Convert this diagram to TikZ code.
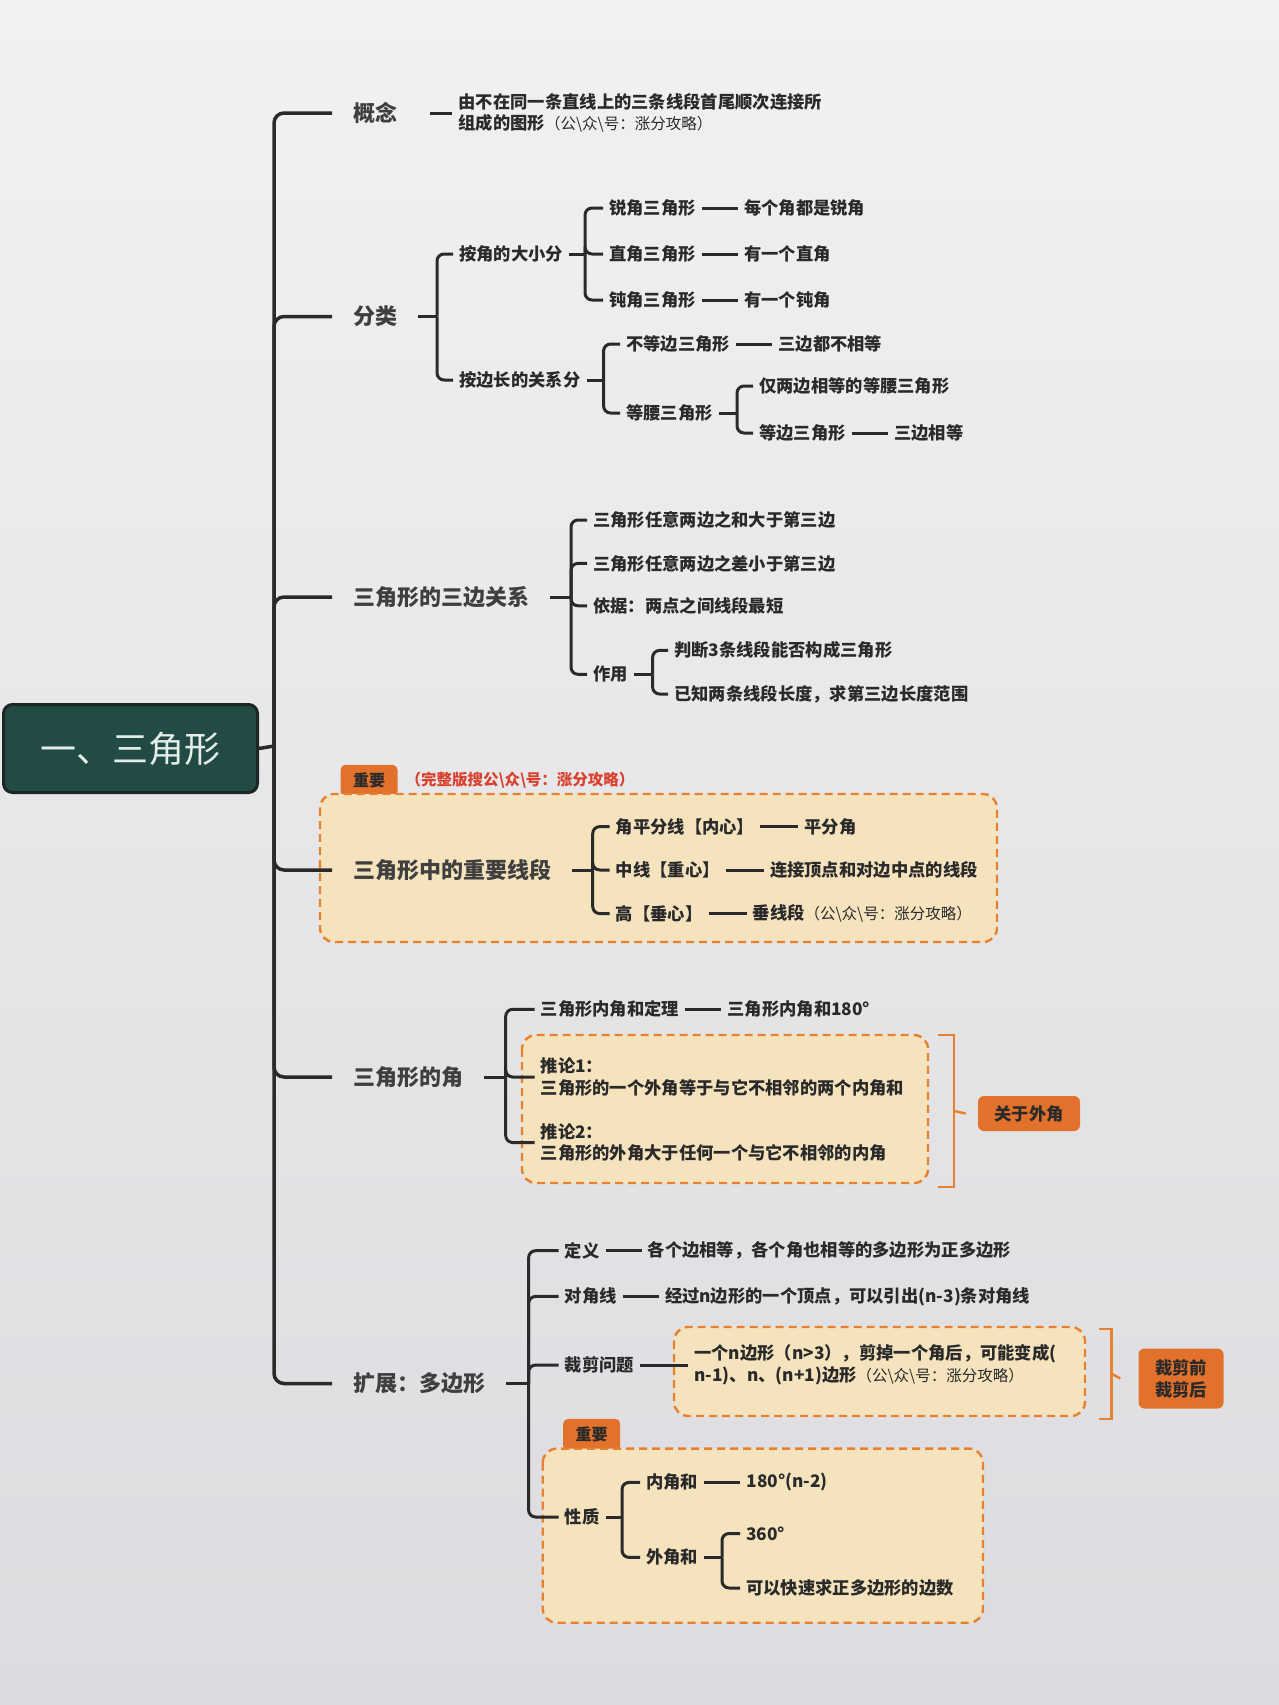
\documentclass[tikz,border=0pt]{standalone}
\usepackage{fontspec}
\setmainfont{Noto Sans CJK SC}
\usetikzlibrary{positioning}

\definecolor{ink}{HTML}{2A2A2A}
\definecolor{rootfill}{HTML}{234B45}
\definecolor{rootedge}{HTML}{1C2624}
\definecolor{rootink}{HTML}{E4EDE9}
\definecolor{boxfill}{HTML}{F5E3BE}
\definecolor{boxedge}{HTML}{E5812F}
\definecolor{tagfill}{HTML}{E2712B}
\definecolor{notered}{HTML}{D9412E}
\definecolor{paper}{HTML}{F1F1F2}
\definecolor{paperlow}{HTML}{DCDCE0}

\newcommand\gzhnote{{\mdseries\fontsize{15.5}{20}\selectfont（公\textbackslash 众\textbackslash 号：涨分攻略）}}

\tikzset{
  root/.style={draw=rootedge, fill=rootfill, line width=3pt, rounded corners=9pt,
    text=rootink, minimum width=254pt, minimum height=88pt, font=\fontsize{36}{40}\selectfont},
  topic/.style={anchor=west, inner xsep=21pt, inner ysep=3pt, text=ink!90,
    font=\fontsize{22}{26}\selectfont\bfseries},
  item/.style={anchor=west, inner xsep=6pt, inner ysep=3pt, text=ink,
    font=\fontsize{17.3}{21.6}\selectfont\bfseries},
  link/.style={draw=ink, line width=3pt, rounded corners=7pt},
  trunk/.style={link, line width=3.5pt, rounded corners=10pt},
  dashbox/.style={draw=boxedge, fill=boxfill, line width=2.4pt,
    dash pattern=on 8pt off 5pt, rounded corners=14pt},
  tag/.style={fill=tagfill, rounded corners=5pt, anchor=south, minimum width=57pt,
    minimum height=32pt, inner ysep=0pt, text=ink, font=\fontsize{16}{18}\selectfont\bfseries},
  sidebox/.style={fill=tagfill, rounded corners=6pt, text=ink, align=center,
    font=\fontsize{17.3}{22}\selectfont\bfseries},
  sidelink/.style={draw=boxedge, line width=2.4pt}
}

\begin{document}
\begin{tikzpicture}[x=1pt,y=-1pt]
\useasboundingbox (0,0) rectangle (1279,1705);
\shade[top color=paper, bottom color=paperlow] (0,0) rectangle (1279,1705);

% highlighted boxes
\node[tag] (tagA) at (369,797) {重要};
\draw[dashbox] (320,794) rectangle (997,942);
\node[anchor=west, text=notered, font=\fontsize{15.5}{18}\selectfont\bfseries] (tagnote) at (402,780)
  {（完整版搜公\textbackslash 众\textbackslash 号：涨分攻略）};
\draw[dashbox] (522,1035) rectangle (928,1183);
\draw[dashbox] (674,1327) rectangle (1085,1416);
\node[tag] (tagB) at (591.7,1451) {重要};
\draw[dashbox] (542.7,1448.6) rectangle (983,1622.7);

% root and trunk
\node[root] (root) at (130.5,748.5) {一、三角形};
\coordinate (tr) at (274,746);
\draw[trunk] (root.east) -- (tr);

\node[topic] (gn) at (332,113) {概念};
\node[topic] (fl) at (332,316.5) {分类};
\node[topic] (sb) at (332,597) {三角形的三边关系};
\node[topic] (xd) at (332,870) {三角形中的重要线段};
\node[topic] (jiao) at (332,1077) {三角形的角};
\node[topic] (kz) at (332,1383.5) {扩展：多边形};
\foreach \t in {gn,fl,sb,xd,jiao,kz}
  \draw[trunk] (tr) |- (\t.west);

% 概念
\node[item, align=left, right=34pt of gn] (gndef)
  {由不在同一条直线上的三条线段首尾顺次连接所\\组成的图形\gzhnote};
\draw[link, shorten <=12pt] (gn.east) -- (gndef.west);

% 分类
\coordinate (fl-b) at (437,316.5);
\draw[link] (fl.east) -- (fl-b);
\node[item] (ajd) at (453,254) {按角的大小分};
\node[item] (bcd) at (453,380) {按边长的关系分};
\foreach \c in {ajd,bcd}
  \draw[link] (fl-b) |- (\c.west);

\coordinate (ajd-b) at (585,254);
\draw[link] (ajd.east) -- (ajd-b);
\node[item] (rj) at (603,208) {锐角三角形};
\node[item] (zj) at (603,254) {直角三角形};
\node[item] (dj) at (603,300) {钝角三角形};
\node[item, right=36pt of rj] (rjd) {每个角都是锐角};
\node[item, right=36pt of zj] (zjd) {有一个直角};
\node[item, right=36pt of dj] (djd) {有一个钝角};
\foreach \c in {rj,zj,dj} {
  \draw[link] (ajd-b) |- (\c.west);
  \draw[link] (\c.east) -- (\c d.west);
}

\coordinate (bcd-b) at (603.6,380);
\draw[link] (bcd.east) -- (bcd-b);
\node[item] (bd) at (620,344) {不等边三角形};
\node[item] (dy) at (620,413) {等腰三角形};
\node[item, right=36pt of bd] (bdd) {三边都不相等};
\draw[link] (bd.east) -- (bdd.west);
\foreach \c in {bd,dy}
  \draw[link] (bcd-b) |- (\c.west);

\coordinate (dy-b) at (737,413);
\draw[link] (dy.east) -- (dy-b);
\node[item] (ly) at (753,386) {仅两边相等的等腰三角形};
\node[item] (db) at (753,433) {等边三角形};
\node[item, right=36pt of db] (dbd) {三边相等};
\draw[link] (db.east) -- (dbd.west);
\foreach \c in {ly,db}
  \draw[link] (dy-b) |- (\c.west);

% 三边关系
\coordinate (sb-b) at (571,597);
\draw[link] (sb.east) -- (sb-b);
\node[item] (s1) at (587,520) {三角形任意两边之和大于第三边};
\node[item] (s2) at (587,563.4) {三角形任意两边之差小于第三边};
\node[item] (s3) at (587,605.8) {依据：两点之间线段最短};
\node[item] (zy) at (587,674.3) {作用};
\foreach \c in {s1,s2,s3,zy}
  \draw[link] (sb-b) |- (\c.west);

\coordinate (zy-b) at (652.6,674.3);
\draw[link] (zy.east) -- (zy-b);
\node[item] (z1) at (668,650.4) {判断3条线段能否构成三角形};
\node[item] (z2) at (668,694) {已知两条线段长度，求第三边长度范围};
\foreach \c in {z1,z2}
  \draw[link] (zy-b) |- (\c.west);

% 重要线段
\coordinate (xd-b) at (592.7,870);
\draw[link] (xd.east) -- (xd-b);
\node[item] (pf) at (609.6,826.6) {角平分线【内心】};
\node[item] (zx) at (609.6,870) {中线【重心】};
\node[item] (gx) at (609.6,913.6) {高【垂心】};
\node[item, right=38pt of pf] (pfd) {平分角};
\node[item, right=38pt of zx] (zxd) {连接顶点和对边中点的线段};
\node[item, right=38pt of gx] (gxd) {垂线段\gzhnote};
\foreach \c in {pf,zx,gx} {
  \draw[link] (xd-b) |- (\c.west);
  \draw[link] (\c.east) -- (\c d.west);
}

% 三角形的角
\coordinate (jiao-b) at (505.7,1077);
\draw[link] (jiao.east) -- (jiao-b);
\node[item] (nj) at (534.5,1009.3) {三角形内角和定理};
\node[item, right=36pt of nj] (njd) {三角形内角和180°};
\draw[link] (nj.east) -- (njd.west);
\node[item, align=left] (tl1) at (534.5,1077) {推论1：\\三角形的一个外角等于与它不相邻的两个内角和};
\node[item, align=left] (tl2) at (534.5,1142.5) {推论2：\\三角形的外角大于任何一个与它不相邻的内角};
\foreach \c in {nj,tl1,tl2}
  \draw[link] (jiao-b) |- (\c.west);

\draw[sidelink] (938,1035) -- (954,1035) -- (954,1187) -- (938,1187);
\coordinate (wj-b) at (954,1111);
\node[sidebox, minimum width=102pt, minimum height=35pt] (wj) at (1029,1113.5) {关于外角};
\draw[sidelink] (wj-b) -- ([xshift=-12pt]wj.west);

% 扩展：多边形
\coordinate (kz-b) at (528.6,1383.5);
\draw[link] (kz.east) -- (kz-b);
\node[item] (dyi) at (558.5,1250.7) {定义};
\node[item] (djx) at (558.5,1296.4) {对角线};
\node[item] (cj) at (558.5,1365) {裁剪问题};
\node[item] (xz) at (558.5,1517) {性质};
\node[item, right=36pt of dyi] (dyid) {各个边相等，各个角也相等的多边形为正多边形};
\node[item, right=36pt of djx] (djxd) {经过n边形的一个顶点，可以引出(n-3)条对角线};
\node[item, align=left, right=48pt of cj] (cjd)
  {一个n边形（n>3），剪掉一个角后，可能变成(\\n-1)、n、(n+1)边形\gzhnote};
\foreach \c in {dyi,djx,cj} {
  \draw[link] (kz-b) |- (\c.west);
  \draw[link] (\c.east) -- (\c d.west);
}
\draw[link] (kz-b) |- (xz.west);

\draw[sidelink] (1098.5,1329) -- (1111.5,1329) -- (1111.5,1419) -- (1098.5,1419);
\coordinate (jq-b) at (1111.5,1373.6);
\node[sidebox, minimum width=85pt, minimum height=60pt] (jq) at (1181,1378.5) {裁剪前\\裁剪后};
\draw[sidelink] (jq-b) -- ([xshift=-18pt]jq.west);

% 性质
\coordinate (xz-b) at (622,1517);
\draw[link] (xz.east) -- (xz-b);
\node[item] (njh) at (640,1482.4) {内角和};
\node[item] (wjh) at (640,1557.4) {外角和};
\node[item, right=36pt of njh] (njhd) {180°(n-2)};
\draw[link] (njh.east) -- (njhd.west);
\foreach \c in {njh,wjh}
  \draw[link] (xz-b) |- (\c.west);

\coordinate (wjh-b) at (722,1557.4);
\draw[link] (wjh.east) -- (wjh-b);
\node[item] (d360) at (740,1533.5) {360°};
\node[item] (zbs) at (740,1588) {可以快速求正多边形的边数};
\foreach \c in {d360,zbs}
  \draw[link] (wjh-b) |- (\c.west);
\end{tikzpicture}
\end{document}
